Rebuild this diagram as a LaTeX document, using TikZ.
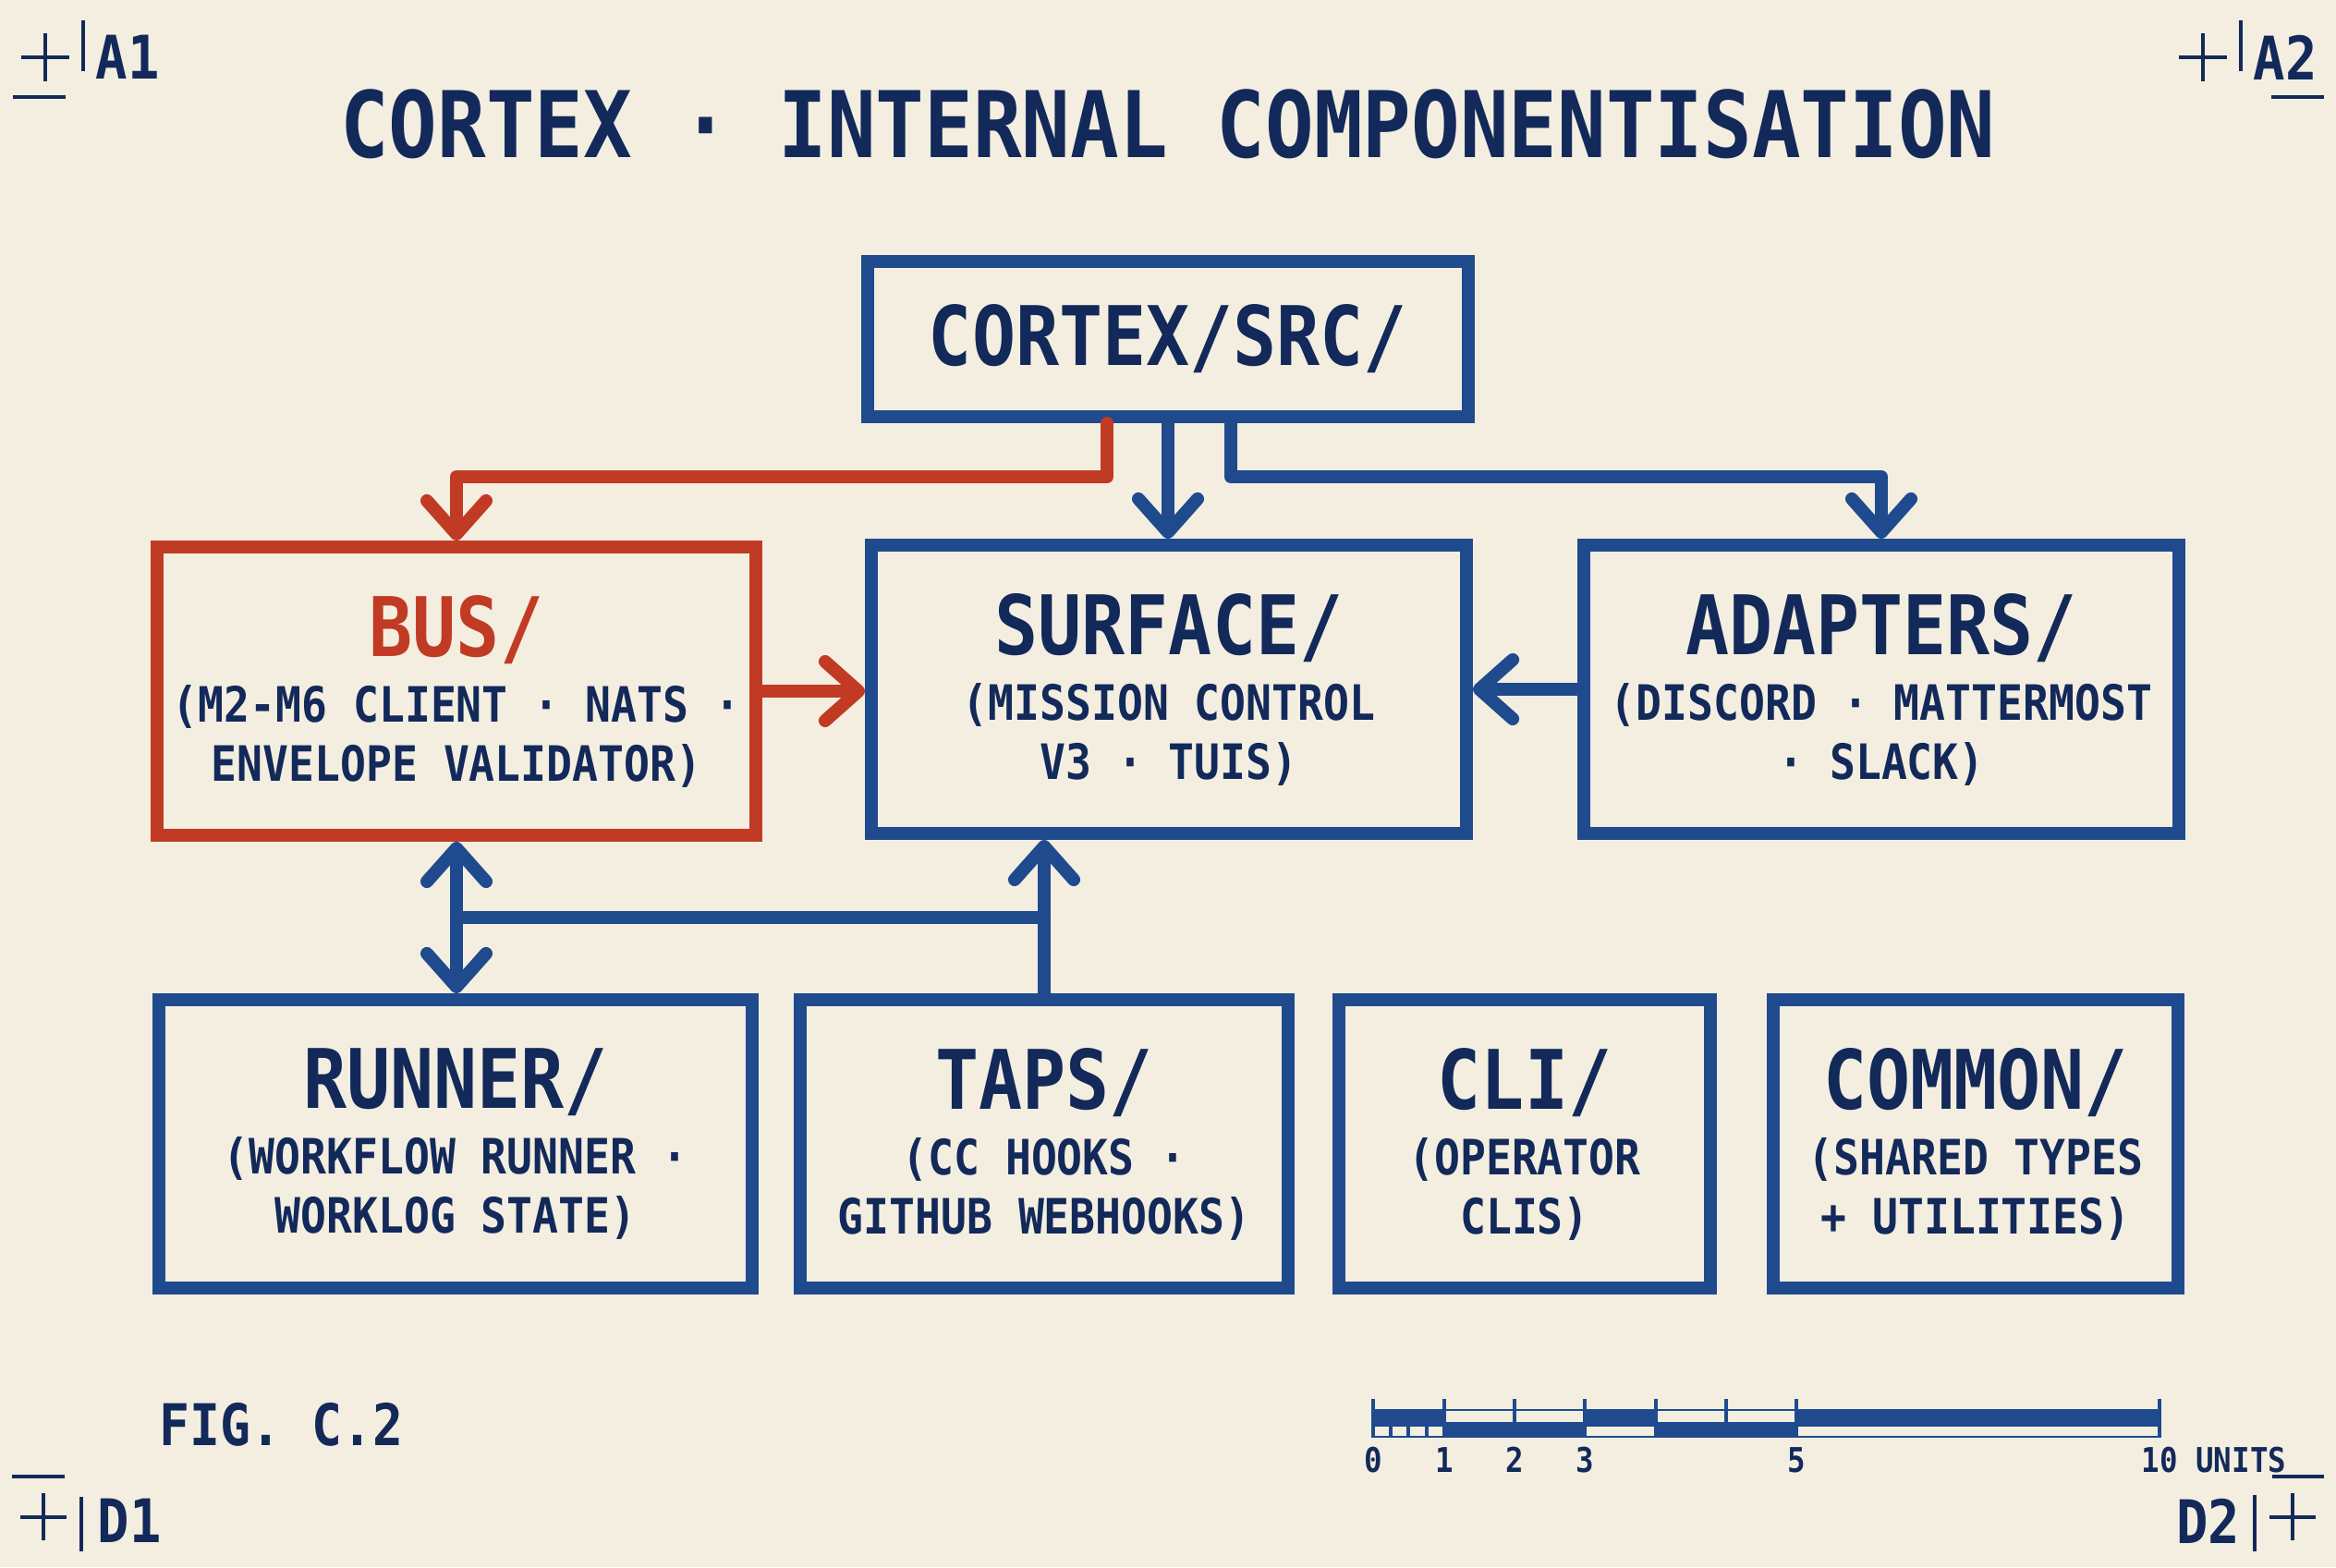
\documentclass[tikz,border=0pt]{standalone}
\usepackage{fontspec}
\usepackage{tikz}
\usetikzlibrary{arrows.meta, calc}
\newfontfamily\cxmono[FakeStretch=0.88]{DejaVu Sans Mono}
\definecolor{paper}{HTML}{F3EEE0}
\definecolor{ink}{HTML}{12295A}
\definecolor{cxblue}{HTML}{1F4A8E}
\definecolor{rust}{HTML}{C13B24}
\newcommand{\hd}[1]{{\fontsize{25.3}{28}\selectfont #1}}
\newcommand{\subtxt}{\cxmono\bfseries\fontsize{15}{18.2}\selectfont}

\begin{document}
\begin{tikzpicture}[
  >={Straight Barb[length=0.36cm, width=0.64cm, round]},
  box/.style={draw=cxblue, line width=4pt, fill=paper, align=center,
    minimum height=3.12cm, inner sep=0pt, text=ink, font=\subtxt},
  link/.style={cxblue, line width=4pt, line cap=round, line join=round},
  regmark/.style={ink, line width=0.9pt},
  corner/.style={text=ink, inner sep=0pt, font=\cxmono\bfseries\fontsize{18.5}{20}\selectfont}
]
  \fill[paper] (0,0) rectangle (25.28,16.96);
  \useasboundingbox (0,0) rectangle (25.28,16.96);

  \node[text=ink, font=\cxmono\bfseries\fontsize{28.3}{30}\selectfont] (title) at (12.64,15.62)
    {CORTEX · INTERNAL COMPONENTISATION};

  % top level
  \node[box, minimum width=6.50cm, minimum height=1.68cm] (src) at (12.64,13.29) {\hd{CORTEX/SRC/}};

  % middle row
  \node[box, draw=rust, minimum width=6.48cm] (bus) at (4.94,9.48)
    {\hd{\color{rust}BUS/}\\[2pt](M2-M6 CLIENT · NATS ·\\ENVELOPE VALIDATOR)};
  \node[box, minimum width=6.44cm] (surface) at (12.65,9.50)
    {\hd{SURFACE/}\\[2pt](MISSION CONTROL\\V3 · TUIS)};
  \node[box, minimum width=6.44cm] (adapters) at (20.36,9.50)
    {\hd{ADAPTERS/}\\[2pt](DISCORD · MATTERMOST\\· SLACK)};

  % bottom row
  \node[box, minimum width=6.42cm] (runner) at (4.93,4.58)
    {\hd{RUNNER/}\\[2pt](WORKFLOW RUNNER ·\\WORKLOG STATE)};
  \node[box, minimum width=5.28cm] (taps) at (11.30,4.58)
    {\hd{TAPS/}\\[2pt](CC HOOKS ·\\GITHUB WEBHOOKS)};
  \node[box, minimum width=4.02cm] (cli) at (16.50,4.58)
    {\hd{CLI/}\\[2pt](OPERATOR\\CLIS)};
  \node[box, minimum width=4.38cm] (common) at (21.38,4.58)
    {\hd{COMMON/}\\[2pt](SHARED TYPES\\+ UTILITIES)};

  % connectors
  \draw[link, rust, ->] ([xshift=-0.66cm]src.south) -- ++(0,-0.58) -| (bus.north);
  \draw[link, ->] (src.south) -- (src.south |- surface.north);
  \draw[link, ->] ([xshift=0.68cm]src.south) -- ++(0,-0.58) -| (adapters.north);
  \draw[link, rust, ->] (bus.east) -- (bus.east -| surface.west);
  \draw[link, ->] (adapters.west) -- (adapters.west -| surface.east);
  \draw[link, <->] (bus.south) -- (bus.south |- runner.north);
  \draw[link, ->] (taps.north) -- (taps.north |- surface.south);
  \coordinate (j1) at ([yshift=-0.82cm]bus.south);
  \coordinate (j2) at (j1 -| taps.north);
  \draw[link] (j1) -- (j2);

  % registration marks
  \draw[regmark] (0.23,16.34) -- (0.75,16.34) (0.49,16.08) -- (0.49,16.60);
  \draw[regmark] (0.90,16.74) -- (0.90,16.19) (0.14,15.91) -- (0.71,15.91);
  \node[corner, anchor=west] (a1) at (1.03,16.34) {A1};
  \draw[regmark] (23.58,16.34) -- (24.10,16.34) (23.84,16.08) -- (23.84,16.60);
  \draw[regmark] (24.25,16.74) -- (24.25,16.19) (24.58,15.91) -- (25.15,15.91);
  \node[corner, anchor=west] (a2) at (24.38,16.34) {A2};
  \draw[regmark] (0.22,0.54) -- (0.72,0.54) (0.47,0.29) -- (0.47,0.80);
  \draw[regmark] (0.88,0.17) -- (0.88,0.76) (0.13,0.98) -- (0.70,0.98);
  \node[corner, anchor=west] (d1) at (1.05,0.50) {D1};
  \draw[regmark] (24.56,0.54) -- (25.06,0.54) (24.81,0.29) -- (24.81,0.80);
  \draw[regmark] (24.40,0.17) -- (24.40,0.78) (24.59,0.98) -- (25.15,0.98);
  \node[corner, anchor=east] (d2) at (24.25,0.50) {D2};

  \node[text=ink, anchor=west, inner sep=0pt, font=\cxmono\bfseries\fontsize{17.7}{20}\selectfont]
    (fig) at (1.72,1.54) {FIG. C.2};

  % scale bar
  \fill[cxblue] (14.86,1.40) rectangle (23.37,1.71);
  \foreach \a/\b in {15.63/16.39, 16.39/17.15, 17.92/18.68, 18.68/19.44}
    \fill[paper] (\a+0.02,1.575) rectangle (\b-0.02,1.69);
  \foreach \a/\b in {17.15/17.92, 19.44/23.37, 14.86/15.05, 15.05/15.24, 15.24/15.44, 15.44/15.63}
    \fill[paper] (\a+0.02,1.42) rectangle (\b-0.02,1.52);
  \foreach \x in {14.86,15.63,16.39,17.15,17.92,18.68,19.44,23.37}
    \draw[cxblue, line width=0.9pt] (\x,1.40) -- (\x,1.82);
  \foreach \x/\t [count=\i] in {14.86/0, 15.63/1, 16.39/2, 17.15/3, 19.44/5}
    \node[text=ink, inner sep=0pt, font=\cxmono\bfseries\fontsize{10.5}{12}\selectfont]
      (unit\i) at (\x,1.16) {\t};
  \node[text=ink, anchor=west, inner sep=0pt, font=\cxmono\bfseries\fontsize{10.5}{12}\selectfont]
    (units) at (23.17,1.16) {10 UNITS};
\end{tikzpicture}
\end{document}
